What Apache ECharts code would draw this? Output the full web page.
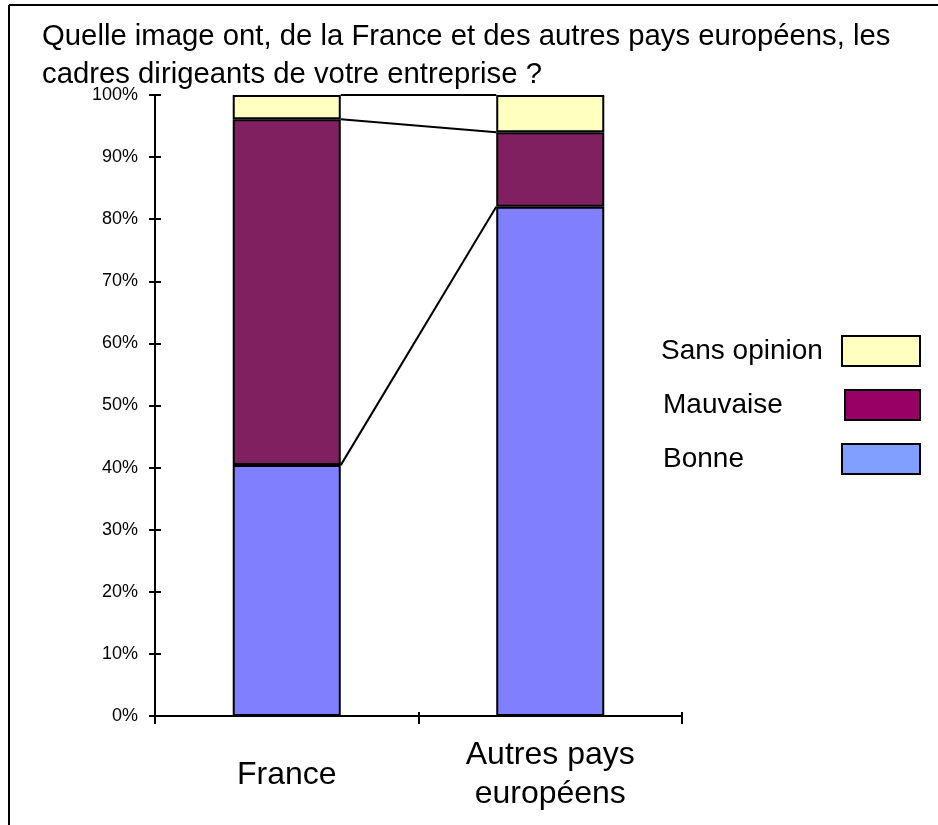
<!DOCTYPE html>
<html>
<head>
<meta charset="utf-8">
<script src="https://cdn.jsdelivr.net/npm/echarts@6/dist/echarts.min.js"></script>
<style>
html,body{margin:0;padding:0;background:#fff;}
#chart{width:938px;height:825px;}
</style>
</head>
<body>
<div id="chart"></div>
<script>
// ---- data ----
const titleText = 'Quelle image ont, de la France et des autres pays européens, les\ncadres dirigeants de votre entreprise ?';
const categories = ['France', 'Autres pays\neuropéens'];
const seriesNames = ['Bonne', 'Mauvaise', 'Sans opinion'];
const bonne = [40.4, 82.0];
const mauvaise = [55.7, 12.0];
const sansOpinion = [3.9, 6.0];
const yTicks = [0, 10, 20, 30, 40, 50, 60, 70, 80, 90, 100];

const barColors = ['#8080FF', '#802060', '#FFFFC0'];
const legendColors = ['#809FFF', '#990066', '#FFFFC0'];
const FONT = 'Liberation Sans, Arial, sans-serif';
const BAR_FRACTION = 0.41;

const values = [bonne, mauvaise, sansOpinion];
// cumulative tops for connector lines
const connectorData = [];
let cumF = 0, cumA = 0;
values.forEach(function (arr) {
  cumF += arr[0];
  cumA += arr[1];
  connectorData.push([0, cumF, cumA]);
});

const chart = echarts.init(document.getElementById('chart'));

const grid = { left: 155, right: 256, top: 95, bottom: 109 };

// legend built from series names (text left, swatch right), top to bottom: Sans opinion, Mauvaise, Bonne
const legendGraphic = [];
const legendOrder = [2, 1, 0];
const legendTextX = [661, 663, 663];
const legendBoxX = [842, 845, 842];
legendOrder.forEach(function (si, i) {
  const cy = 351 + i * 54;
  legendGraphic.push({
    type: 'text', x: legendTextX[i], y: cy,
    style: { text: seriesNames[si], font: '28px ' + FONT, fill: '#000', verticalAlign: 'middle' }
  });
  legendGraphic.push({
    type: 'rect',
    shape: { x: legendBoxX[i], y: cy - 15, width: 920 - legendBoxX[i], height: 30 },
    style: { fill: legendColors[si], stroke: '#000', lineWidth: 2 }
  });
});

const option = {
  backgroundColor: '#fff',
  animation: false,
  title: {
    text: titleText,
    left: 37, top: 13,
    textStyle: { fontFamily: FONT, fontSize: 29.3, fontWeight: 'normal', color: '#000', lineHeight: 38 }
  },
  grid: grid,
  xAxis: [{
    type: 'category',
    data: categories,
    axisLine: { lineStyle: { color: '#000', width: 2 } },
    axisTick: { show: true, length: 8, lineStyle: { color: '#000', width: 2 } },
    axisLabel: { color: '#000', fontFamily: FONT, fontSize: 32, lineHeight: 39, margin: 59, verticalAlign: 'middle' },
    splitLine: { show: false }
  }, {
    type: 'category',
    data: categories,
    position: 'bottom',
    axisLine: { show: false },
    axisTick: { show: true, inside: true, length: 4, lineStyle: { color: '#000', width: 2 } },
    axisLabel: { show: false },
    splitLine: { show: false }
  }],
  yAxis: [{
    type: 'value',
    min: 0, max: 100, interval: 10,
    axisLine: { show: true, lineStyle: { color: '#000', width: 2 } },
    axisTick: { show: true, length: 6, lineStyle: { color: '#000', width: 2 } },
    axisLabel: { color: '#000', fontFamily: FONT, fontSize: 18, margin: 17, formatter: '{value}%' },
    splitLine: { show: false }
  }, {
    type: 'value',
    min: 0, max: 100, interval: 10,
    position: 'left',
    axisLine: { show: false },
    axisTick: { show: true, inside: true, length: 6, lineStyle: { color: '#000', width: 2 } },
    axisLabel: { show: false },
    splitLine: { show: false }
  }],
  series: values.map(function (arr, i) {
    return {
      name: seriesNames[i],
      type: 'bar',
      stack: 'total',
      barWidth: (BAR_FRACTION * 100) + '%',
      data: arr,
      itemStyle: { color: barColors[i], borderColor: '#000', borderWidth: 2 }
    };
  }).concat([{
    type: 'custom',
    name: 'connectors',
    xAxisIndex: 1,
    yAxisIndex: 1,
    data: connectorData,
    encode: { x: 0, y: [1, 2] },
    z: 5,
    renderItem: function (params, api) {
      const p0 = api.coord([0, api.value(1)]);
      const p1 = api.coord([1, api.value(2)]);
      const hw = api.size([1, 0])[0] * BAR_FRACTION / 2;
      return {
        type: 'line',
        shape: { x1: p0[0] + hw, y1: p0[1], x2: p1[0] - hw, y2: p1[1] },
        style: { stroke: '#000', lineWidth: 2 }
      };
    }
  }]),
  graphic: [
    { type: 'line', shape: { x1: 9, y1: 5, x2: 938, y2: 5 }, style: { stroke: '#000', lineWidth: 2 } },
    { type: 'line', shape: { x1: 9, y1: 5, x2: 9, y2: 825 }, style: { stroke: '#000', lineWidth: 2 } }
  ].concat(legendGraphic)
};

chart.setOption(option);
</script>
</body>
</html>
